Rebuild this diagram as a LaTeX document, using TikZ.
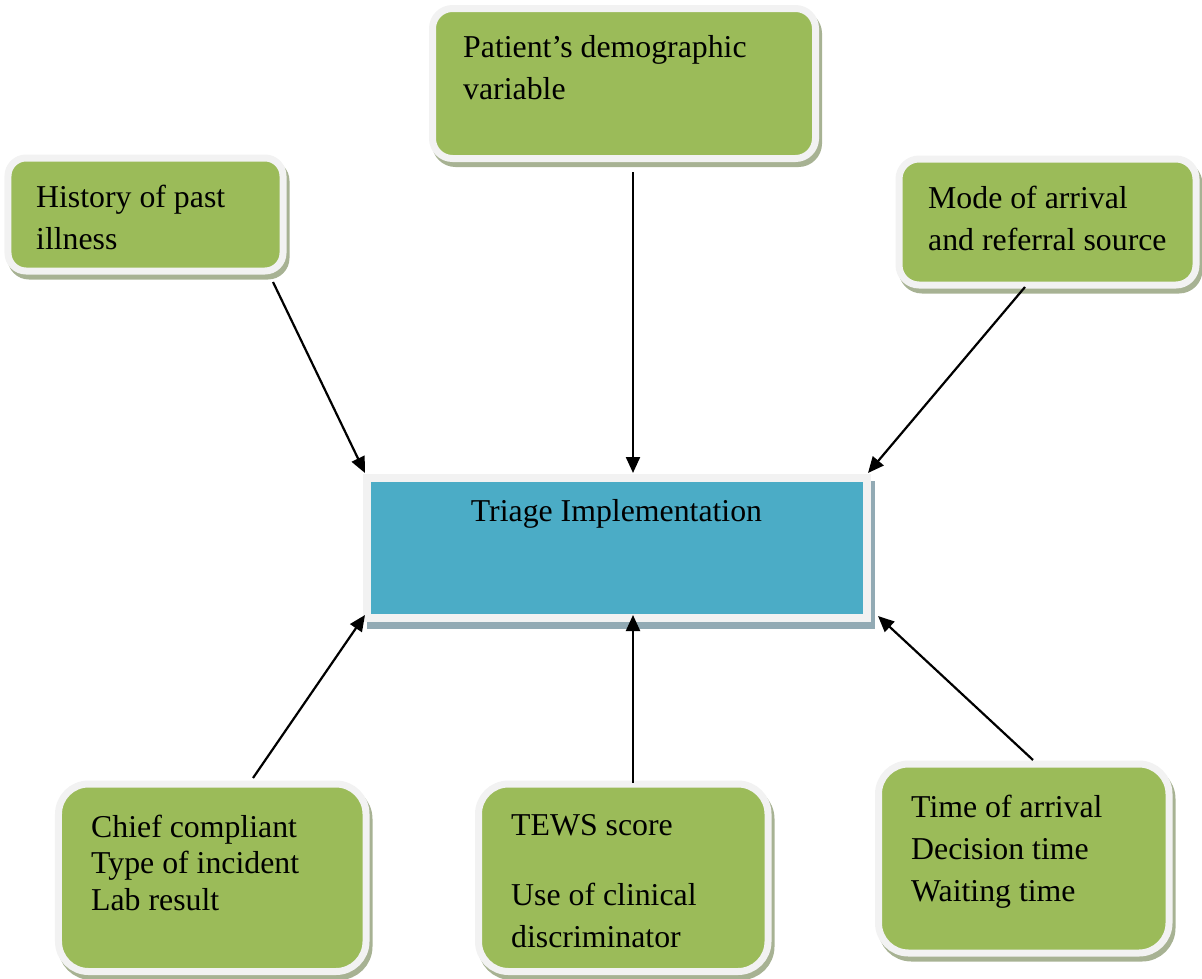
\documentclass[tikz,border=0pt]{standalone}
\usepackage{fontspec}
\setmainfont{Liberation Serif}
\usetikzlibrary{arrows.meta}
\definecolor{boxgreen}{HTML}{9BBB59}
\definecolor{boxblue}{HTML}{4BACC6}
\definecolor{framec}{HTML}{F2F2F2}
\definecolor{gshadow}{HTML}{A7B293}
\definecolor{bshadow}{HTML}{92AAB4}
\tikzset{
  gbox/.style={draw=framec, line width=7bp, fill=boxgreen, inner sep=0pt,
    preaction={draw=gshadow, fill=gshadow, line width=7bp, transform canvas={shift={(3bp,-5bp)}}}},
  tbox/.style={draw=framec, line width=8bp, fill=boxblue, inner sep=0pt,
    preaction={draw=bshadow, fill=bshadow, line width=8bp, transform canvas={shift={(4bp,-7bp)}}}},
  txt/.style={anchor=base west, inner sep=0pt, align=left, font=\fontsize{31.8bp}{42bp}\selectfont},
  arr/.style={line width=2.2bp, -{Triangle[length=16bp,width=14bp]}}
}
\begin{document}
\begin{tikzpicture}[x=1bp,y=-1bp]
\useasboundingbox (0,0) rectangle (1202,979);
% boxes
\node[gbox, rounded corners=18bp, minimum width=275bp, minimum height=113bp] (hist) at (145.5,214.5) {};
\node[gbox, rounded corners=20bp, minimum width=383bp, minimum height=150bp] (demo) at (624,83.5) {};
\node[gbox, rounded corners=20bp, minimum width=297bp, minimum height=126bp] (mode) at (1047.5,222) {};
\node[tbox, minimum width=499.5bp, minimum height=140bp] (triage) at (616.75,548) {};
\node[gbox, rounded corners=30bp, minimum width=307.5bp, minimum height=187.5bp] (chief) at (212.25,877.75) {};
\node[gbox, rounded corners=30bp, minimum width=289.5bp, minimum height=187.5bp] (tews) at (623.25,877.75) {};
\node[gbox, rounded corners=30bp, minimum width=290.5bp, minimum height=189bp] (time) at (1023.75,858.5) {};
% texts (anchor at baseline of last line)
\node[txt] (histt) at (36,249) {History of past\\illness};
\node[txt] (demot) at (463,99) {Patient’s demographic\\variable};
\node[txt] (modet) at (928,250) {Mode of arrival\\and referral source};
\node[txt, anchor=base] (triaget) at (616.5,521) {Triage Implementation};
\node[txt, font=\fontsize{31.8bp}{36.5bp}\selectfont] (chieft) at (91,910) {Chief compliant\\Type of incident\\Lab result};
\node[txt] (tewst) at (511,947) {TEWS score\\[28bp]Use of clinical\\discriminator};
\node[txt] (timet) at (911,901) {Time of arrival\\Decision time\\Waiting time};
% connector ends
\coordinate (h1) at (273,282); \coordinate (h2) at (365,473);
\coordinate (d1) at (633,172); \coordinate (d2) at (633,473);
\coordinate (m1) at (1025,287); \coordinate (m2) at (868,473);
\coordinate (c1) at (253,778); \coordinate (c2) at (365,615);
\coordinate (e1) at (633,783); \coordinate (e2) at (633,615);
\coordinate (t1) at (1033,760); \coordinate (t2) at (878,616);
\draw[arr] (h1) -- (h2);
\draw[arr] (d1) -- (d2);
\draw[arr] (m1) -- (m2);
\draw[arr] (c1) -- (c2);
\draw[arr] (e1) -- (e2);
\draw[arr] (t1) -- (t2);
\end{tikzpicture}
\end{document}
